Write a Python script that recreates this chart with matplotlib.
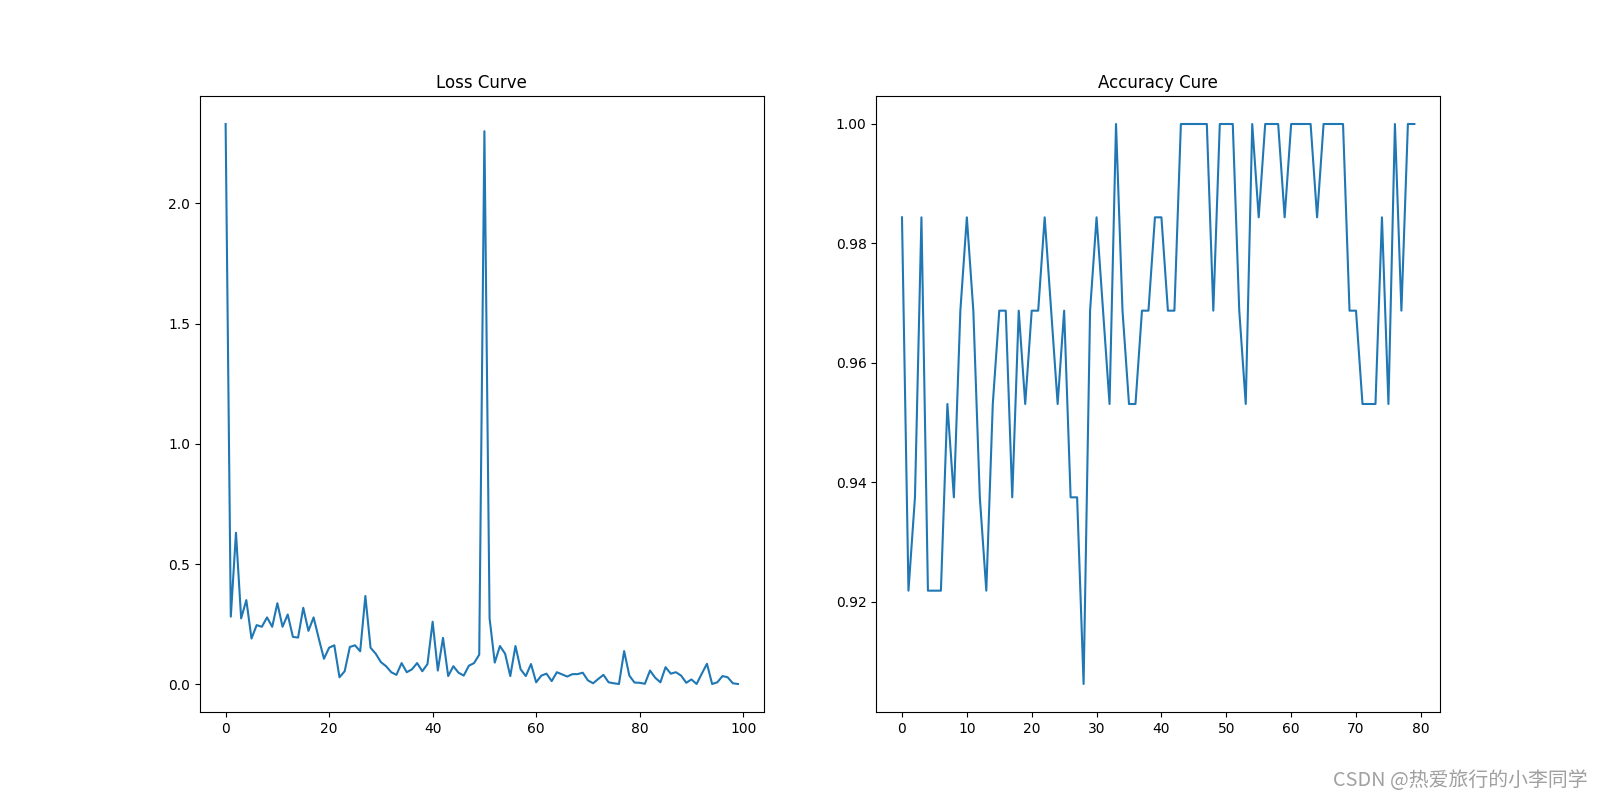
import numpy as np
import matplotlib.pyplot as plt

# loss per step (100 points)
loss = [2.33, 0.281, 0.630, 0.274, 0.350, 0.190, 0.246, 0.239, 0.278, 0.239,
        0.337, 0.239, 0.290, 0.197, 0.194, 0.318, 0.222, 0.278, 0.190, 0.106,
        0.152, 0.162, 0.029, 0.054, 0.155, 0.162, 0.137, 0.367, 0.152, 0.127,
        0.092, 0.075, 0.050, 0.039, 0.088, 0.050, 0.062, 0.088, 0.054, 0.084,
        0.260, 0.057, 0.193, 0.034, 0.075, 0.048, 0.036, 0.077, 0.088, 0.123,
        2.30, 0.274, 0.090, 0.159, 0.127, 0.034, 0.159, 0.062, 0.034, 0.084,
        0.008, 0.036, 0.044, 0.013, 0.050, 0.041, 0.032, 0.042, 0.042, 0.048,
        0.016, 0.004, 0.022, 0.039, 0.008, 0.004, 0.001, 0.138, 0.036, 0.007,
        0.006, 0.002, 0.057, 0.027, 0.008, 0.071, 0.044, 0.050, 0.036, 0.006,
        0.020, 0.001, 0.044, 0.085, 0.001, 0.008, 0.034, 0.029, 0.004, 0.001]

# accuracy per step, counted out of 64 samples (80 points)
correct = [63, 59, 60, 63, 59, 59, 59, 61, 60, 62,
           63, 62, 60, 59, 61, 62, 62, 60, 62, 61,
           62, 62, 63, 62, 61, 62, 60, 60, 58, 62,
           63, 62, 61, 64, 62, 61, 61, 62, 62, 63,
           63, 62, 62, 64, 64, 64, 64, 64, 62, 64,
           64, 64, 62, 61, 64, 63, 64, 64, 64, 63,
           64, 64, 64, 64, 63, 64, 64, 64, 64, 62,
           62, 61, 61, 61, 63, 61, 64, 62, 64, 64]
acc = np.array(correct) / 64

fig, (ax1, ax2) = plt.subplots(1, 2, figsize=(16, 8), dpi=100)

ax1.plot(np.arange(len(loss)), loss)
ax1.set_title('Loss Curve')

ax2.plot(np.arange(len(acc)), acc)
ax2.set_title('Accuracy Cure')

# watermark
fig.text(0.992, 0.024, 'CSDN @热爱旅行的小李同学', ha='right', va='center',
         fontsize=14.3, color='#a0a0a0',
         family=['Noto Sans CJK SC', 'DejaVu Sans'])

plt.savefig('out.png')
